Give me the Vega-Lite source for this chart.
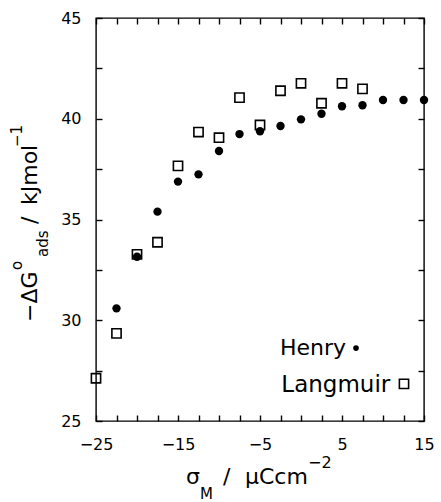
{
  "$schema": "https://vega.github.io/schema/vega-lite/v6.json",
  "autosize": "none",
  "padding": {"left": 96, "top": 18, "right": 17, "bottom": 81},
  "width": 328,
  "height": 403,
  "background": "white",
  "config": {
    "font": "DejaVu Sans",
    "view": {"stroke": "black", "strokeWidth": 1.4},
    "axis": {
      "domain": false, "grid": false, "ticks": true, "tickColor": "black", "tickSize": -6, "tickWidth": 1.4, "tickOpacity": 1,
      "labelFont": "DejaVu Sans", "labelFontSize": 16, "labelColor": "black",
      "labelOverlap": false, "labelFlush": false, "labelPadding": 21, "title": null
    }
  },
  "datasets": {
    "points": [
      {"sigma": -22.5, "dG": 30.59, "series": "Henry"},
      {"sigma": -20, "dG": 33.15, "series": "Henry"},
      {"sigma": -17.5, "dG": 35.39, "series": "Henry"},
      {"sigma": -15, "dG": 36.88, "series": "Henry"},
      {"sigma": -12.5, "dG": 37.24, "series": "Henry"},
      {"sigma": -10, "dG": 38.40, "series": "Henry"},
      {"sigma": -7.5, "dG": 39.24, "series": "Henry"},
      {"sigma": -5, "dG": 39.38, "series": "Henry"},
      {"sigma": -2.5, "dG": 39.64, "series": "Henry"},
      {"sigma": 0, "dG": 39.97, "series": "Henry"},
      {"sigma": 2.5, "dG": 40.25, "series": "Henry"},
      {"sigma": 5, "dG": 40.62, "series": "Henry"},
      {"sigma": 7.5, "dG": 40.67, "series": "Henry"},
      {"sigma": 10, "dG": 40.93, "series": "Henry"},
      {"sigma": 12.5, "dG": 40.93, "series": "Henry"},
      {"sigma": 15, "dG": 40.93, "series": "Henry"},
      {"sigma": -25, "dG": 27.12, "series": "Langmuir"},
      {"sigma": -22.5, "dG": 29.35, "series": "Langmuir"},
      {"sigma": -20, "dG": 33.27, "series": "Langmuir"},
      {"sigma": -17.5, "dG": 33.87, "series": "Langmuir"},
      {"sigma": -15, "dG": 37.66, "series": "Langmuir"},
      {"sigma": -12.5, "dG": 39.34, "series": "Langmuir"},
      {"sigma": -10, "dG": 39.06, "series": "Langmuir"},
      {"sigma": -7.5, "dG": 41.05, "series": "Langmuir"},
      {"sigma": -5, "dG": 39.69, "series": "Langmuir"},
      {"sigma": -2.5, "dG": 41.39, "series": "Langmuir"},
      {"sigma": 0, "dG": 41.76, "series": "Langmuir"},
      {"sigma": 2.5, "dG": 40.77, "series": "Langmuir"},
      {"sigma": 5, "dG": 41.76, "series": "Langmuir"},
      {"sigma": 7.5, "dG": 41.48, "series": "Langmuir"}
    ]
  },
  "resolve": {"axis": {"x": "independent", "y": "independent"}},
  "layer": [
    {
      "data": {"name": "points"},
      "transform": [{"filter": "datum.series == 'Langmuir'"}],
      "mark": {"type": "point", "shape": "square", "filled": false, "stroke": "black", "strokeWidth": 1.6, "size": 85, "opacity": 1},
      "encoding": {
        "x": {"field": "sigma", "type": "quantitative", "scale": {"domain": [-25, 15], "nice": false, "zero": false},
              "axis": {"orient": "top", "labels": false, "values": [-25, -22.5, -20, -17.5, -15, -12.5, -10, -7.5, -5, -2.5, 0, 2.5, 5, 7.5, 10, 12.5, 15]}},
        "y": {"field": "dG", "type": "quantitative", "scale": {"domain": [25, 45], "nice": false, "zero": false},
              "axis": {"orient": "right", "labels": false, "values": [25, 27.5, 30, 32.5, 35, 37.5, 40, 42.5, 45]}}
      }
    },
    {
      "data": {"name": "points"},
      "transform": [{"filter": "datum.series == 'Henry'"}],
      "mark": {"type": "point", "shape": "circle", "filled": true, "fill": "black", "size": 70, "opacity": 1},
      "encoding": {
        "x": {"field": "sigma", "type": "quantitative",
              "axis": {"orient": "bottom", "values": [-25, -22.5, -20, -17.5, -15, -12.5, -10, -7.5, -5, -2.5, 0, 2.5, 5, 7.5, 10, 12.5, 15],
                       "labelExpr": "abs(datum.value % 10) == 5 ? datum.label : ''"}},
        "y": {"field": "dG", "type": "quantitative",
              "axis": {"orient": "left", "values": [25, 27.5, 30, 32.5, 35, 37.5, 40, 42.5, 45],
                       "labelExpr": "datum.value % 5 == 0 ? datum.label : ''"}}
      }
    },
    {
      "data": {"values": [{"label": "Henry"}]},
      "mark": {"type": "text", "align": "left", "baseline": "alphabetic", "fontSize": 22, "color": "black"},
      "encoding": {"x": {"datum": -2.56, "axis": null}, "y": {"datum": 28.28, "axis": null}, "text": {"field": "label"}}
    },
    {
      "data": {"values": [{"label": "Langmuir"}]},
      "mark": {"type": "text", "align": "left", "baseline": "alphabetic", "fontSize": 23, "color": "black"},
      "encoding": {"x": {"datum": -2.4, "axis": null}, "y": {"datum": 26.44, "axis": null}, "text": {"field": "label"}}
    },
    {
      "data": {"values": [{"series": "Henry"}]},
      "mark": {"type": "point", "shape": "circle", "filled": true, "fill": "black", "size": 32, "opacity": 1},
      "encoding": {"x": {"datum": 6.71, "axis": null}, "y": {"datum": 28.62, "axis": null}}
    },
    {
      "data": {"values": [{"series": "Langmuir"}]},
      "mark": {"type": "point", "shape": "square", "filled": false, "stroke": "black", "strokeWidth": 1.6, "size": 85, "opacity": 1},
      "encoding": {"x": {"datum": 12.56, "axis": null}, "y": {"datum": 26.84, "axis": null}}
    },
    {
      "data": {"values": [{}]},
      "mark": {"type": "text", "text": "σ", "align": "left", "baseline": "alphabetic", "fontSize": 22, "dx": 90, "dy": 63, "color": "black"},
      "encoding": {"x": {"datum": -25, "axis": null}, "y": {"datum": 25, "axis": null}}
    },
    {
      "data": {"values": [{}]},
      "mark": {"type": "text", "text": "M", "align": "left", "baseline": "alphabetic", "fontSize": 15, "dx": 104, "dy": 78, "color": "black"},
      "encoding": {"x": {"datum": -25, "axis": null}, "y": {"datum": 25, "axis": null}}
    },
    {
      "data": {"values": [{}]},
      "mark": {"type": "text", "text": "/", "align": "left", "baseline": "alphabetic", "fontSize": 22, "dx": 127, "dy": 63, "color": "black"},
      "encoding": {"x": {"datum": -25, "axis": null}, "y": {"datum": 25, "axis": null}}
    },
    {
      "data": {"values": [{}]},
      "mark": {"type": "text", "text": "μCcm", "align": "left", "baseline": "alphabetic", "fontSize": 22, "dx": 149, "dy": 63, "color": "black"},
      "encoding": {"x": {"datum": -25, "axis": null}, "y": {"datum": 25, "axis": null}}
    },
    {
      "data": {"values": [{}]},
      "mark": {"type": "text", "text": "−2", "align": "left", "baseline": "alphabetic", "fontSize": 16, "dx": 212, "dy": 47, "color": "black"},
      "encoding": {"x": {"datum": -25, "axis": null}, "y": {"datum": 25, "axis": null}}
    },
    {
      "data": {"values": [{}]},
      "mark": {"type": "text", "text": "−ΔG", "angle": 270, "align": "left", "baseline": "alphabetic", "fontSize": 22, "dx": 99, "dy": -59, "color": "black"},
      "encoding": {"x": {"datum": -25, "axis": null}, "y": {"datum": 25, "axis": null}}
    },
    {
      "data": {"values": [{}]},
      "mark": {"type": "text", "text": "o", "angle": 270, "align": "left", "baseline": "alphabetic", "fontSize": 15, "dx": 151, "dy": -74, "color": "black"},
      "encoding": {"x": {"datum": -25, "axis": null}, "y": {"datum": 25, "axis": null}}
    },
    {
      "data": {"values": [{}]},
      "mark": {"type": "text", "text": "ads", "angle": 270, "align": "left", "baseline": "alphabetic", "fontSize": 15, "dx": 164, "dy": -48, "color": "black"},
      "encoding": {"x": {"datum": -25, "axis": null}, "y": {"datum": 25, "axis": null}}
    },
    {
      "data": {"values": [{}]},
      "mark": {"type": "text", "text": "/", "angle": 270, "align": "left", "baseline": "alphabetic", "fontSize": 22, "dx": 197, "dy": -59, "color": "black"},
      "encoding": {"x": {"datum": -25, "axis": null}, "y": {"datum": 25, "axis": null}}
    },
    {
      "data": {"values": [{}]},
      "mark": {"type": "text", "text": "kJmol", "angle": 270, "align": "left", "baseline": "alphabetic", "fontSize": 22, "dx": 216, "dy": -59, "color": "black"},
      "encoding": {"x": {"datum": -25, "axis": null}, "y": {"datum": 25, "axis": null}}
    },
    {
      "data": {"values": [{}]},
      "mark": {"type": "text", "text": "−1", "angle": 270, "align": "left", "baseline": "alphabetic", "fontSize": 15, "dx": 274, "dy": -74, "color": "black"},
      "encoding": {"x": {"datum": -25, "axis": null}, "y": {"datum": 25, "axis": null}}
    }
  ]
}
